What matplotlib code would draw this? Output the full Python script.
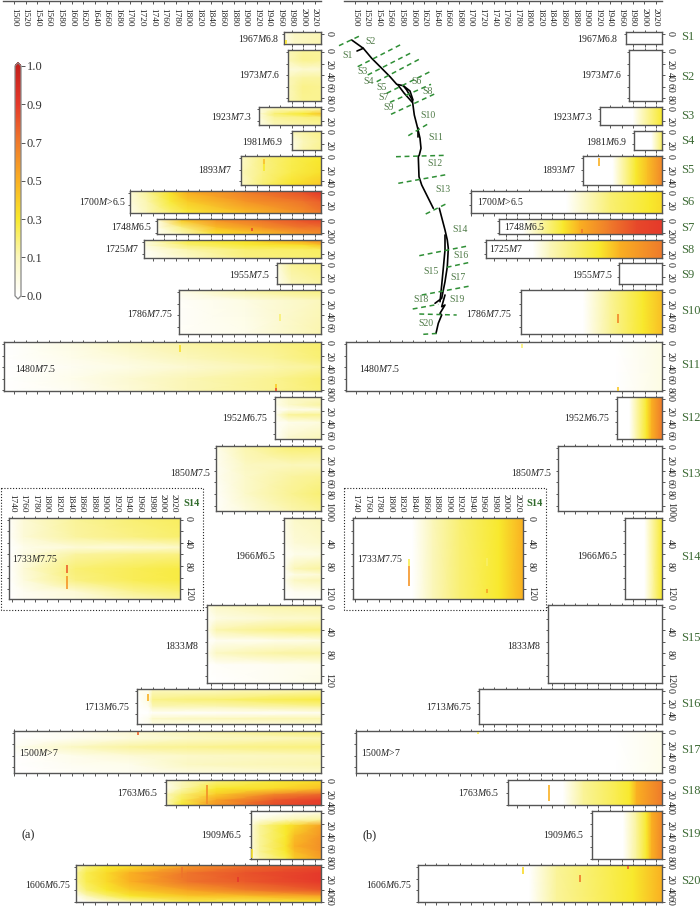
import numpy as np
import matplotlib
matplotlib.use("Agg")
import matplotlib.pyplot as plt
from matplotlib.colors import FuncNorm, LinearSegmentedColormap
from matplotlib.cm import ScalarMappable
from matplotlib.transforms import ScaledTranslation

plt.rcParams['font.family'] = ['Liberation Serif', 'DejaVu Serif']
plt.rcParams['mathtext.fontset'] = 'custom'
plt.rcParams['mathtext.rm'] = 'Liberation Serif'
plt.rcParams['mathtext.it'] = 'Liberation Serif:italic'

# ---------- categories ----------
NAMES = ['S%d' % i for i in range(1, 21)] + ['I14']
LABELS = ['1967$M$6.8', '1973$M$7.6', '1923$M$7.3', '1981$M$6.9', '1893$M$7', '1700$M$>6.5',
          '1748$M$6.5', '1725$M$7', '1955$M$7.5', '1786$M$7.75', '1480$M$7.5', '1952$M$6.75',
          '1850$M$7.5', '1966$M$6.5', '1833$M$8', '1713$M$6.75', '1500$M$>7', '1763$M$6.5',
          '1909$M$6.5', '1606$M$6.75', '1733$M$7.75']
STARTS = [1967, 1973, 1923, 1981, 1893, 1700, 1748, 1725, 1955, 1786, 1483, 1952,
          1850, 1966, 1833, 1713, 1500, 1763, 1909, 1608, 1735]
DEPTH_LABELS = [[0], [0, 20, 40, 60, 80], [0, 20], [0, 20], [0, 20, 40], [0, 20], [0, 20], [0, 20], [0, 20],
                [0, 20, 40, 60], [0, 20, 40, 60, 80], [0, 20, 40, 60], [0, 20, 40, 60, 80, 100],
                [0, 40, 80, 120], [0, 40, 80, 120], [0, 20, 40], [0, 20, 40, 60], [0, 20, 40],
                [0, 20, 40, 60, 80], [0, 20, 40, 60], [0, 40, 80, 120]]

# ---------- colour scale ----------
LEVELS = [0.0, 0.1, 0.3, 0.5, 0.7, 0.9, 1.0]
LEVEL_COLORS = ['#ffffff', '#fbf7bc', '#f8e92c', '#fab022', '#ef7a2b', '#e5392a', '#c4201c']

# ---------- panel (a): years, depths, values ----------
A1_Y = [1967, 1985, 2030]; A1_D = [0, 18]
A1_V = [[.03, .09, .11], [.03, .08, .12]]
A2_Y = [1973, 2000, 2030]; A2_D = [0, 15, 30, 45, 60, 85]
A2_V = [[.1, .15, .15], [.1, .16, .15], [.05, .07, .07], [.1, .14, .14], [.1, .17, .16], [.1, .16, .16]]
A3_Y = [1923, 1950, 2000, 2030]; A3_D = [0, 8, 14, 28]
A3_V = [[.04, .1, .12, .14], [.05, .2, .3, .42], [.05, .15, .18, .2], [.03, .1, .13, .15]]
A4_Y = [1981, 2000, 2030]; A4_D = [0, 15, 30]
A4_V = [[.1, .13, .17], [.04, .1, .15], [.04, .12, .16]]
A5_Y = [1893, 1930, 1980, 2030]; A5_D = [0, 25, 47]
A5_V = [[.08, .18, .25, .3], [.1, .18, .26, .33], [.08, .2, .32, .42]]
A6_Y = [1700, 1730, 1770, 1800, 1900, 2000, 2030]; A6_D = [0, 15, 35]
A6_V = [[.05, .15, .32, .5, .68, .82, .9], [.05, .12, .28, .4, .6, .72, .78], [.03, .1, .2, .28, .45, .62, .7]]
A7_Y = [1748, 1790, 1850, 1930, 1990, 2030]; A7_D = [0, 12, 24]
A7_V = [[.05, .4, .6, .72, .8, .85], [.03, .18, .45, .6, .7, .72], [.02, .1, .3, .42, .55, .62]]
A8_Y = [1725, 1800, 1900, 2000, 2030]; A8_D = [0, 6, 14, 28]
A8_V = [[.05, .25, .32, .5, .6], [.05, .2, .28, .33, .42], [.02, .12, .2, .22, .23], [.01, .08, .18, .2, .21]]
A9_Y = [1955, 1980, 2030]; A9_D = [0, 33]
A9_V = [[.05, .15, .18], [.02, .1, .14]]
A10_Y = [1786, 1900, 2030]; A10_D = [0, 15, 70]
A10_V = [[.03, .12, .18], [.01, .04, .1], [.01, .03, .12]]
A11_Y = [1483, 1600, 1700, 1800, 1950, 2030]; A11_D = [0, 25, 40, 60, 82]
A11_V = [[0, .04, .09, .13, .17, .21], [0, .03, .06, .1, .15, .2], [0, .02, .04, .07, .12, .15],
         [0, .03, .07, .11, .16, .21], [0, .02, .06, .11, .16, .2]]
A12_Y = [1952, 1975, 2030]; A12_D = [0, 10, 18, 27, 40, 65]
A12_V = [[.03, .08, .1], [.03, .08, .14], [.01, .03, .04], [.03, .15, .16], [.01, .03, .05], [.01, .07, .1]]
A13_Y = [1850, 1900, 1980, 2030]; A13_D = [0, 30, 50, 80, 110]
A13_V = [[.03, .12, .2, .2], [.02, .09, .1, .1], [.02, .08, .14, .16], [.01, .08, .16, .2], [.01, .05, .12, .15]]
A14_Y = [1966, 1985, 2030]; A14_D = [0, 40, 60, 85, 95, 105, 125, 140]
A14_V = [[.03, .08, .1], [.02, .06, .08], [.01, .03, .04], [.02, .11, .14], [.01, .04, .06], [.02, .09, .11],
         [0, .02, .03], [0, .01, .01]]
A15_Y = [1833, 1850, 1950, 2030]; A15_D = [0, 20, 40, 58, 80, 100, 135]
A15_V = [[.03, .08, .12, .13], [.01, .04, .07, .08], [.02, .12, .17, .19], [0, .02, .03, .04],
         [.02, .09, .13, .14], [0, .01, .02, .03], [0, 0, .02, .04]]
A16_Y = [1713, 1733, 1740, 1850, 2030]; A16_D = [0, 15, 28, 38, 48, 58]
A16_V = [[.02, .03, .1, .1, .13], [0, .05, .17, .2, .27], [0, .02, .1, .1, .14], [0, 0, .01, .01, .02],
         [0, .03, .08, .1, .12], [0, .02, .04, .04, .07]]
A17_Y = [1500, 1600, 1700, 1800, 2030]; A17_D = [0, 10, 25, 40, 55, 72]
A17_V = [[0, .02, .06, .1, .19], [0, .02, .05, .08, .11], [.02, .09, .14, .16, .19], [0, .03, .06, .08, .1],
         [0, .02, .03, .09, .12], [0, .01, .02, .04, .07]]
A18_Y = [1763, 1790, 1850, 1950, 2030]; A18_D = [0, 12, 22, 32, 42]
A18_V = [[.05, .1, .2, .28, .35], [.02, .12, .3, .35, .45], [.1, .2, .4, .65, .75], [.1, .25, .55, .8, .88],
         [.1, .3, .6, .85, .9]]
A19_Y = [1909, 1925, 1970, 1985, 2030]; A19_D = [0, 12, 22, 40, 58, 68, 80]
A19_V = [[0, 0, .02, .03, .05], [.03, .05, .1, .12, .15], [.05, .15, .3, .35, .55], [.05, .15, .3, .45, .6],
         [.05, .15, .32, .5, .62], [.05, .15, .3, .45, .6], [.03, .12, .25, .4, .55]]
A20_Y = [1608, 1625, 1660, 1700, 1800, 1900, 2030]; A20_D = [0, 10, 25, 40, 50, 60]
A20_V = [[.1, .2, .3, .35, .6, .75, .85], [.15, .25, .35, .5, .72, .82, .9], [.15, .25, .35, .5, .72, .8, .9],
         [.1, .2, .3, .4, .55, .68, .8], [.02, .1, .2, .3, .42, .45, .55], [0, .02, .06, .12, .25, .25, .32]]
AI_Y = [1735, 1760, 1850, 1950, 2030]; AI_D = [0, 30, 48, 60, 85, 105, 125, 140]
AI_V = [[.01, .06, .15, .2, .23], [.01, .06, .14, .18, .21], [0, .03, .06, .06, .08], [0, .04, .14, .17, .18],
        [0, .06, .2, .24, .27], [0, .05, .18, .24, .27], [0, .02, .06, .16, .2], [0, .02, .05, .1, .15]]

# ---------- panel (b): years, values ----------
B1_Y = [1967, 2030]; B1_V = [0, 0]
B2_Y = [1973, 2030]; B2_V = [0, 0]
B3_Y = [1923, 1980, 2030]; B3_V = [0, 0, .3]
B4_Y = [1981, 2012, 2030]; B4_V = [0, 0, .22]
B5_Y = [1893, 1945, 1985, 2005, 2030]; B5_V = [0, 0, .3, .45, .65]
B6_Y = [1700, 1865, 1940, 2009, 2030]; B6_V = [0, 0, .2, .3, .35]
B7_Y = [1748, 1790, 1825, 1859, 1888, 1940, 1986, 2030]; B7_V = [0, 0, .15, .3, .5, .7, .85, .9]
B8_Y = [1725, 1807, 1836, 1922, 1957, 2030]; B8_V = [0, 0, .1, .3, .5, .7]
B9_Y = [1955, 2030]; B9_V = [0, 0]
B10_Y = [1786, 1894, 1940, 1997, 2030]; B10_V = [0, 0, .15, .3, .45]
B11_Y = [1483, 1951, 2030]; B11_V = [0, 0, .04]
B12_Y = [1952, 1974, 2003, 2012, 2030]; B12_V = [0, 0, .3, .5, .7]
B13_Y = [1850, 2030]; B13_V = [0, 0]
B14_Y = [1966, 2000, 2030]; B14_V = [0, 0, .3]
B15_Y = [1833, 2030]; B15_V = [0, 0]
B16_Y = [1713, 2030]; B16_V = [0, 0]
B17_Y = [1500, 1951, 2030]; B17_V = [0, 0, .03]
B18_Y = [1763, 1859, 1894, 1951, 1974, 1986, 2030]; B18_V = [0, 0, .15, .25, .3, .5, .7]
B19_Y = [1909, 1963, 1986, 2003, 2012, 2030]; B19_V = [0, 0, .15, .3, .5, .65]
B20_Y = [1608, 1801, 1848, 1940, 1980, 2030]; B20_V = [0, 0, .15, .25, .3, .5]
BI_Y = [1735, 1839, 1873, 1920, 1989, 2030]; BI_V = [0, 0, .1, .2, .3, .5]

# ---------- short local anomalies: station, year, depth from, depth to, value ----------
SPOT_A_ST = ['S1', 'S5', 'S5', 'S7', 'S10', 'S11', 'S11', 'S11', 'I14', 'I14', 'S16', 'S17', 'S17', 'S18', 'S19', 'S20', 'S20']
SPOT_A_YR = [1971, 1933, 1933, 1912, 1960, 1787, 1953, 1953, 1835, 1835, 1732, 1714, 1912, 1833, 1912, 1790, 1887]
SPOT_A_D0 = [9, 2, 11, 12, 38, 2, 70, 76, 79, 98, 6, -2, 70, 5, 62, 0, 16]
SPOT_A_D1 = [18, 11, 22, 18, 50, 13, 76, 83, 92, 120, 18, 4, 73, 38, 78, 18, 26]
SPOT_A_V = [.32, .45, .3, .85, .2, .34, .4, .85, .78, .6, .5, .78, .35, .62, .32, .72, .9]

SPOT_B_ST = ['S5', 'S7', 'S10', 'S11', 'S11', 'I14', 'I14', 'I14', 'I14', 'S18', 'S17', 'S17', 'S20', 'S20', 'S20']
SPOT_B_YR = [1921, 1892, 1954, 1788, 1953, 1833, 1833, 1967, 1967, 1834, 1712, 1910, 1790, 1888, 1971]
SPOT_B_D0 = [0, 13, 38, 0, 74, 68, 80, 66, 120, 6, -2, 70, 0, 14, -2]
SPOT_B_D1 = [14, 20, 54, 7, 84, 80, 114, 80, 126, 34, 2, 73, 11, 26, 3]
SPOT_B_V = [.5, .7, .65, .2, .42, .25, .6, .22, .55, .5, .25, .25, .35, .7, .8]

# ---------- fault map traces ----------
FAULT_MAIN_X = [351.7, 363.3, 371.7, 381.7, 390, 396.7, 403.3, 406.7, 412.3, 414.3, 417.7, 420, 421, 419.3, 418.3, 419, 421.7, 433.3]
FAULT_MAIN_Y = [40, 48.3, 58.3, 68.3, 76.7, 84.3, 85.7, 90, 100, 115, 128.3, 138.3, 148.3, 155, 156.7, 176.7, 185, 208.3]
FAULT_S14_X = [439.3, 445, 447.3, 448.3, 447.3, 445, 441.7, 435]
FAULT_S14_Y = [208.3, 230, 240, 248.3, 266.7, 281.7, 298.3, 303.3]
FAULT_S14B_X = [445, 445, 443.3, 441.7, 440]
FAULT_S14B_Y = [235, 250, 268.3, 285, 301.7]
FAULT_END_X = [445, 441.7, 445, 440, 441.7, 438.3, 436]
FAULT_END_Y = [295, 306.7, 305, 313.3, 315, 323.3, 333.3]
FAULT_S1_X = [363.3, 357]
FAULT_S1_Y = [48.3, 51]
FAULT_S6_X = [398, 404, 412]
FAULT_S6_Y = [85, 93, 102]
FAULT_S8_X = [403.3, 410, 413]
FAULT_S8_Y = [85.7, 91, 100]
FAULT_S10_X = [418, 418]
FAULT_S10_Y = [128, 137]

SEG_X0 = [339, 357.7, 367.7, 376.7, 386.7, 390, 391, 408.3, 396, 398.3, 425.7, 419.3, 446.7, 421.7, 412.7, 419.3, 423.3]
SEG_Y0 = [45.7, 66.7, 75, 81.7, 93.3, 102.3, 114.3, 135.7, 156.7, 183.3, 214, 255.7, 267.3, 295, 309, 314, 334.3]
SEG_X1 = [361.7, 403.3, 413.3, 421, 430, 431, 436, 429, 446.7, 448.3, 447.3, 469.3, 470, 471.7, 438.3, 456.7, 439.3]
SEG_Y1 = [35, 43.3, 51.7, 58.3, 71.7, 84.3, 93.3, 123.3, 155.3, 174.3, 203.3, 245.7, 262.3, 285.7, 304.3, 315, 333.3]

MAP_NAMES = ['S1', 'S2', 'S3', 'S4', 'S5', 'S6', 'S7', 'S8', 'S9', 'S10', 'S11', 'S12', 'S13', 'S14', 'S15', 'S16', 'S17', 'S18', 'S19', 'S20']
MAP_X = [348, 371, 362, 369, 382, 417, 384, 428, 389, 428, 436, 435, 443, 460, 431, 461, 458, 421, 457, 426]
MAP_Y = [56, 42, 72, 81, 88, 82, 98, 91, 108, 116, 137, 163, 189, 230, 272, 256, 278, 300, 300, 324]

# ---------- layout (pixels) ----------
W, H = 700, 906
X0, PX_YR = 14.0, 0.5785
OFFSET = 341.5
TOPS = [32.3, 50, 107.3, 130.7, 156, 191, 219, 240, 263.3, 290, 342, 397.3, 445.7, 517.7, 605, 689, 730.7, 779.7, 811, 865.3, 517.7]
BOTS = [44.3, 101.3, 125.3, 150.3, 185, 213, 234.3, 257.7, 284.3, 334.3, 391.3, 439.3, 511.3, 599, 683, 724, 773.3, 805, 859, 902, 599]
LAB_X_A = [279, 280, 252, 283.7, 232.7, 125.7, 152.7, 138.7, 270, 173.7, 56, 268.3, 211, 276, 198.7, 130, 58.3, 158.3, 242, 71, 58.7]
LAB_X_B = [618.7, 622.7, 593.3, 627.7, 576, 524.3, 545, 523.3, 613, 512.7, 400.7, 610, 552, 618.3, 540.7, 472.7, 401, 499.3, 584.3, 412.7, 403.3]
LAB_Y = [38.7, 74.3, 117, 141.3, 169.3, 201.7, 227, 248.3, 274.7, 313.3, 368.3, 417.3, 472.3, 555.3, 645.3, 706.7, 752.3, 792.3, 834.3, 885, 559]
SID_Y = [36.7, 77.3, 116.3, 141, 170, 201.7, 227.7, 250.3, 275, 311, 365.3, 418.3, 473.7, 557.3, 638, 704.3, 750, 790.7, 834, 880.7]

fig = plt.figure(figsize=(W / 100, H / 100), dpi=100, facecolor='white')

norm = FuncNorm((lambda v: np.interp(v, LEVELS, np.linspace(0, 1, len(LEVELS))),
                 lambda u: np.interp(u, np.linspace(0, 1, len(LEVELS)), LEVELS)), vmin=0, vmax=1)
cmap = LinearSegmentedColormap.from_list('slip', LEVEL_COLORS, N=512)
cmap.set_under('#ffffff')
cmap.set_over('#b81c18')

SP = '#555555'
TXT = '#222222'
FS = 6.7


def px_axes(x0, y0, x1, y1):
    return fig.add_axes([x0 / W, 1 - y1 / H, (x1 - x0) / W, (y1 - y0) / H])


def panel(i, years, depths, values, off, spots, inset=False):
    x_zero = 12 - 240 * PX_YR if inset else X0
    left = x_zero + (STARTS[i] - 1500) * PX_YR + off
    right = x_zero + 530 * PX_YR + off
    ax = px_axes(left, TOPS[i], right, BOTS[i])
    d_top = -2 / PX_YR
    d_bot = (BOTS[i] - TOPS[i] - 2) / PX_YR
    yy = np.r_[STARTS[i] - 5, years, 2035]
    dd = np.r_[d_top - 1, depths, d_bot + 1 + max(0, depths[-1] - d_bot)]
    vv = np.pad(np.asarray(values, float), 1, mode='edge')
    ax.pcolormesh(yy, dd, vv, cmap=cmap, norm=norm, shading='gouraud', rasterized=True)
    st, yr, d0, d1, val = spots
    for s, y, a, b, v in zip(st, yr, d0, d1, val):
        if s == NAMES[i]:
            ax.vlines(y, a, b, colors=[cmap(norm(v))], lw=1.2, capstyle='butt', zorder=3)
    ax.set_xlim(STARTS[i], 2030)
    ax.set_ylim(d_bot, d_top)
    ax.set_xticks(np.arange(1500, 2021, 20)[np.arange(1500, 2021, 20) >= STARTS[i]])
    ax.set_yticks(np.arange(0, d_bot + 1, 20))
    ax.set_xticklabels([])
    labs = set(DEPTH_LABELS[i]) if (i not in (15, 16) or off > 0) else set()
    ax.set_yticklabels([str(int(t)) if t in labs else '' for t in ax.get_yticks()])
    ax.tick_params(axis='both', length=1.8, width=0.7, color=SP, direction='out', labelsize=7.2, labelcolor=TXT, pad=1)
    ax.tick_params(axis='x', top=True, bottom=True)
    ax.tick_params(axis='y', left=True, right=True, labelleft=False, labelright=True, labelrotation=-90)
    for sp in ax.spines.values():
        sp.set_color(SP)
        sp.set_linewidth(1.0)
    if inset:
        ax.tick_params(axis='x', labeltop=True, labelbottom=False, length=1.8)
        ax.set_xticklabels([str(t) for t in ax.get_xticks()], rotation=-90, fontsize=FS, color=TXT)
        ax.tick_params(axis='x', pad=2)
    if i == 19:
        # keep the last depth label of the bottom row inside the picture
        for tick in ax.yaxis.get_major_ticks():
            if tick.label2.get_text() == '60':
                tick.label2.set_transform(tick.label2.get_transform() + ScaledTranslation(0, 2.5 / 100, fig.dpi_scale_trans))
    return ax


A_DATA = [(A1_Y, A1_D, A1_V), (A2_Y, A2_D, A2_V), (A3_Y, A3_D, A3_V), (A4_Y, A4_D, A4_V), (A5_Y, A5_D, A5_V),
          (A6_Y, A6_D, A6_V), (A7_Y, A7_D, A7_V), (A8_Y, A8_D, A8_V), (A9_Y, A9_D, A9_V), (A10_Y, A10_D, A10_V),
          (A11_Y, A11_D, A11_V), (A12_Y, A12_D, A12_V), (A13_Y, A13_D, A13_V), (A14_Y, A14_D, A14_V),
          (A15_Y, A15_D, A15_V), (A16_Y, A16_D, A16_V), (A17_Y, A17_D, A17_V), (A18_Y, A18_D, A18_V),
          (A19_Y, A19_D, A19_V), (A20_Y, A20_D, A20_V), (AI_Y, AI_D, AI_V)]
B_DATA = [(B1_Y, B1_V), (B2_Y, B2_V), (B3_Y, B3_V), (B4_Y, B4_V), (B5_Y, B5_V), (B6_Y, B6_V), (B7_Y, B7_V),
          (B8_Y, B8_V), (B9_Y, B9_V), (B10_Y, B10_V), (B11_Y, B11_V), (B12_Y, B12_V), (B13_Y, B13_V),
          (B14_Y, B14_V), (B15_Y, B15_V), (B16_Y, B16_V), (B17_Y, B17_V), (B18_Y, B18_V), (B19_Y, B19_V),
          (B20_Y, B20_V), (BI_Y, BI_V)]
SPOTS_A = (SPOT_A_ST, SPOT_A_YR, SPOT_A_D0, SPOT_A_D1, SPOT_A_V)
SPOTS_B = (SPOT_B_ST, SPOT_B_YR, SPOT_B_D0, SPOT_B_D1, SPOT_B_V)

for i in range(len(NAMES)):
    y, d, v = A_DATA[i]
    panel(i, y, d, v, 0, SPOTS_A, inset=(i == 20))
    by, bv = B_DATA[i]
    bd = [0, 200]
    off = 343.4 if i == 20 else OFFSET
    panel(i, by, bd, [bv, bv], off, SPOTS_B, inset=(i == 20))

# top year scales
TOP_YEARS = np.arange(1500, 2021, 20)
for off, xa in ((0, 3), (OFFSET - 0.5, 3.5)):
    axt = px_axes(xa + off, 0.6, X0 + 530 * PX_YR + off, 1.0)
    axt.set_xlim(1500 + (xa - X0) / PX_YR, 2030)
    axt.set_xticks(TOP_YEARS)
    axt.set_xticklabels([str(t) for t in TOP_YEARS], rotation=-90, fontsize=FS, color=TXT)
    axt.tick_params(axis='x', length=2.2, width=0.7, color=SP, pad=3)
    axt.set_yticks([])
    for k, sp in axt.spines.items():
        sp.set_visible(k == 'bottom')
        sp.set_color(SP)
        sp.set_linewidth(1.0)

# colour bar
cax = px_axes(15, 62.7, 21, 299)
cb = fig.colorbar(ScalarMappable(norm=norm, cmap=cmap), cax=cax, extend='both', extendfrac=0.014, ticks=LEVELS)
cb.ax.minorticks_off()
cb.ax.set_yticklabels(['%.1f' % v for v in LEVELS], fontsize=9, color='#333333')
cb.ax.tick_params(length=3, width=0.7, color='#555555', pad=1)
cb.outline.set_edgecolor('#888888')
cb.outline.set_linewidth(0.9)

# overlay in pixel units
ov = fig.add_axes([0, 0, 1, 1], zorder=10)
ov.set_xlim(0, W)
ov.set_ylim(H, 0)
ov.axis('off')

for i in range(len(NAMES)):
    ov.text(LAB_X_A[i], LAB_Y[i], LABELS[i], ha='right', va='center', fontsize=7, color=TXT)
    ov.text(LAB_X_B[i], LAB_Y[i], LABELS[i], ha='right', va='center', fontsize=7, color=TXT)
for s, y in zip(NAMES[:20], SID_Y):
    ov.text(681, y, s, ha='left', va='center', fontsize=9, color='#3d6b35')
ov.text(21.5, 835, '(a)', fontsize=8.8, color=TXT, ha='left', va='center')
ov.text(362.5, 835, '(b)', fontsize=8.8, color=TXT, ha='left', va='center')
for x0, sx in ((1, 192), (344, 535)):
    ov.plot([x0, x0 + 201.5, x0 + 201.5, x0, x0], [488.3, 488.3, 610, 610, 488.3], color='#222222', lw=0.8, ls=(0, (1, 1.6)))
    ov.text(sx, 503, 'S14', fontsize=7.5, fontweight='bold', color='#2f6a2a', ha='center', va='center')

for xs, ys in ((FAULT_MAIN_X, FAULT_MAIN_Y), (FAULT_S14_X, FAULT_S14_Y), (FAULT_S14B_X, FAULT_S14B_Y),
               (FAULT_END_X, FAULT_END_Y), (FAULT_S1_X, FAULT_S1_Y), (FAULT_S6_X, FAULT_S6_Y),
               (FAULT_S8_X, FAULT_S8_Y), (FAULT_S10_X, FAULT_S10_Y)):
    ov.plot(xs, ys, color='black', lw=1.2, solid_capstyle='round')
for a, b, c, d in zip(SEG_X0, SEG_Y0, SEG_X1, SEG_Y1):
    ov.plot([a, c], [b, d], color='#2f8f36', lw=1.1, ls=(0, (3.2, 2.4)))
for s, x, y in zip(MAP_NAMES, MAP_X, MAP_Y):
    ov.text(x, y, s, fontsize=7, color='#4f7a47', ha='center', va='center')

fig.savefig('out.png', dpi=100)
